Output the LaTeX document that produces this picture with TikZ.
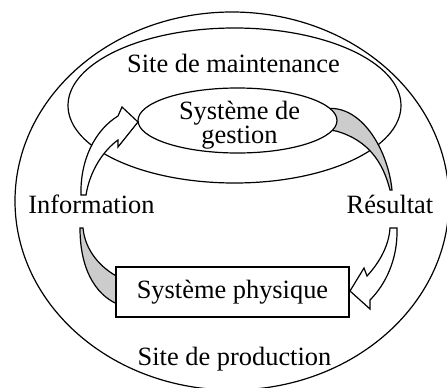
\documentclass[tikz,border=0pt]{standalone}
\usepackage{fontspec}
\setmainfont{Liberation Serif}
\usetikzlibrary{shapes.geometric}
\begin{document}
\begin{tikzpicture}[x=1pt,y=-1pt,line width=1.2pt,line join=miter,
  txt/.style={font=\fontsize{26.4}{26.4}\selectfont,inner sep=0pt,anchor=base},
  ell/.style={draw,ellipse,inner sep=0pt},
  grayhorn/.style={draw,fill=black!20},
  whitearrow/.style={draw,fill=white}]
\useasboundingbox (0,0) rectangle (447,388);
% sites
\node[ell,minimum width=434pt,minimum height=378pt] (prod) at (232,201) {};
\node[ell,minimum width=333pt,minimum height=155pt] (maint) at (234.5,105.5) {};
% gray horn from gestion to Resultat
\draw[grayhorn] (315,112) -- (328,108.5) .. controls (362,106) and (388,150) .. (392,190)
  -- (390,190) .. controls (383,162) and (368,140) .. (336,131) -- (315,128) -- cycle;
\node[ell,fill=white,minimum width=199pt,minimum height=65pt] (gest) at (237.5,120.5) {};
% white arrow Information -> gestion
\draw[whitearrow] (81,195) .. controls (80,160) and (95,130) .. (118,116)
  -- (122,107) -- (138,122) -- (118,147) -- (118,140)
  .. controls (104,150) and (90,170) .. (86,195) -- cycle;
% gray horn Information -> physique
\draw[grayhorn] (80,228) .. controls (80,275) and (100,298) .. (120,305)
  -- (120,278) .. controls (100,268) and (85,250) .. (83,228) -- cycle;
\node[draw,fill=white,minimum width=233pt,minimum height=50pt,inner sep=0pt,
  font=\fontsize{26.4}{26.4}\selectfont] (phys) at (232.5,292) {Système physique};
% white arrow Resultat -> physique
\draw[whitearrow] (397,228) .. controls (398,260) and (385,285) .. (370,300)
  -- (370,309) -- (350,291) -- (364,268) -- (367,276)
  .. controls (380,262) and (389,245) .. (390,228) -- cycle;
% texts
\node[txt] (tmaint) at (233.5,72) {Site de maintenance};
\node[font=\fontsize{26.4}{22}\selectfont,inner sep=0pt,align=center] (tgest) at (239.5,125.5) {Système de\\gestion};
\node[txt] (tinfo) at (91.5,213) {Information};
\node[txt] (tres) at (390,213) {Résultat};
\node[txt] (tprod) at (234.5,365) {Site de production};
\end{tikzpicture}
\end{document}
